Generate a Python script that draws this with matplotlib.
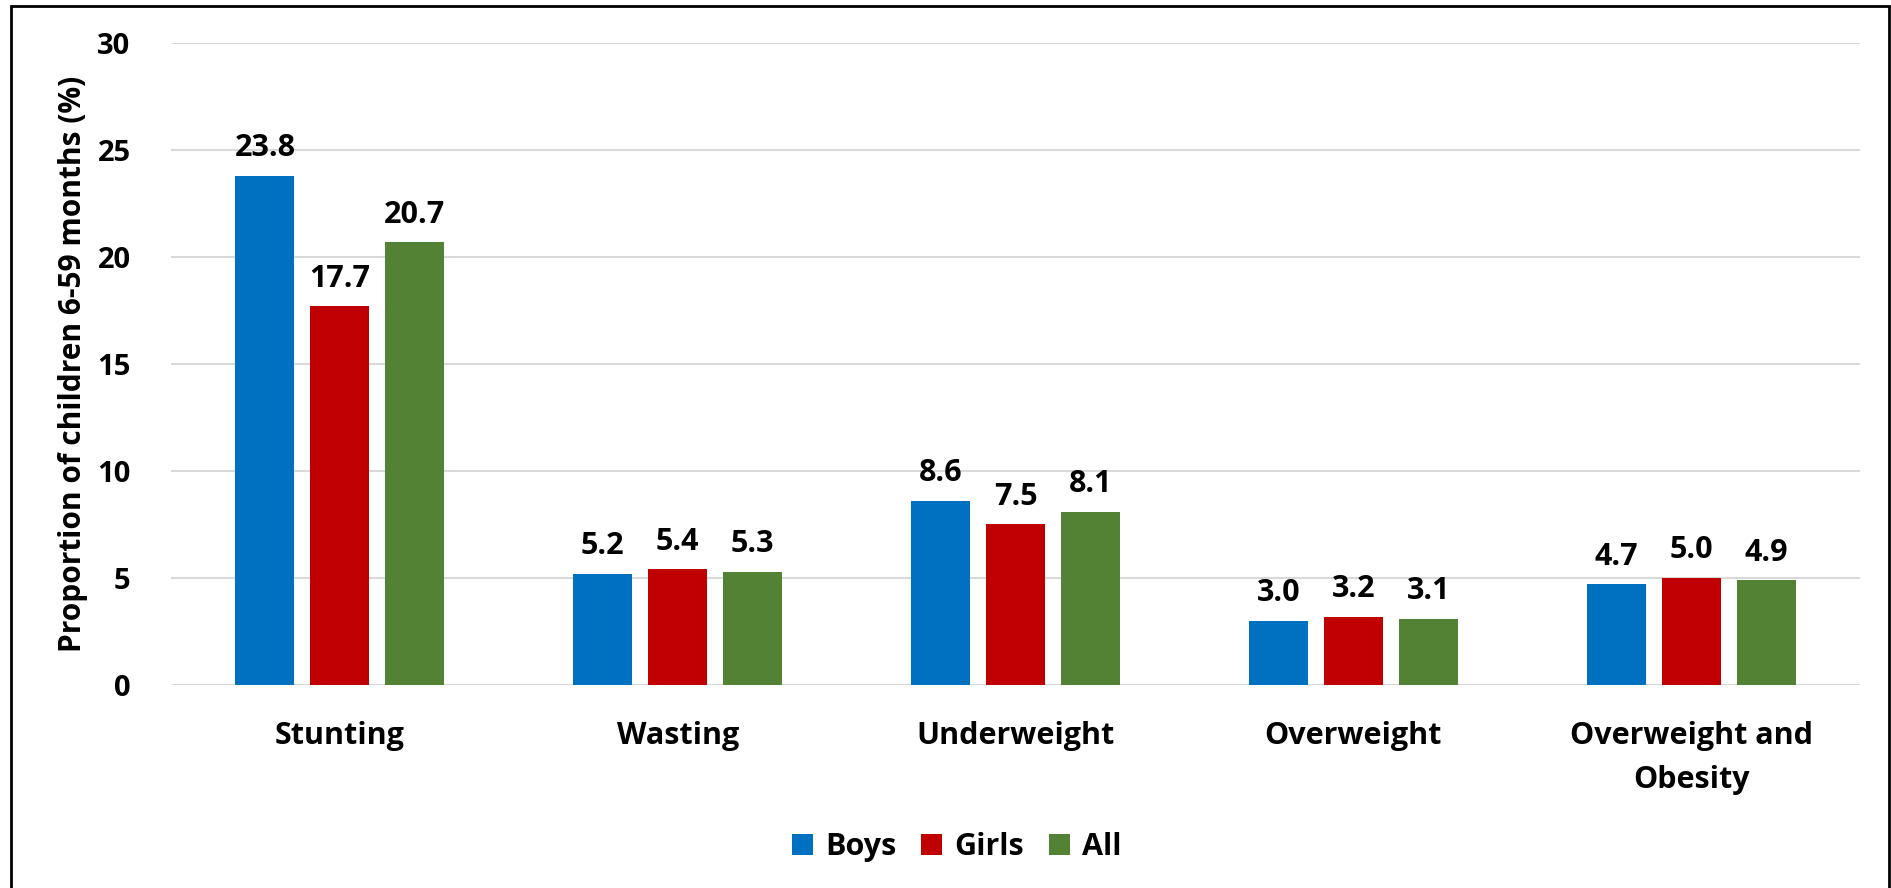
import numpy as np
import matplotlib
matplotlib.use("Agg")
import matplotlib.pyplot as plt
from matplotlib.patches import Rectangle

plt.rcParams['font.family'] = ['Open Sans', 'DejaVu Sans']
plt.rcParams['font.weight'] = 'bold'

categories = ['Stunting', 'Wasting', 'Underweight', 'Overweight', 'Overweight and\nObesity']
series_names = ['Boys', 'Girls', 'All']
boys = [23.8, 5.2, 8.6, 3.0, 4.7]
girls = [17.7, 5.4, 7.5, 3.2, 5.0]
all_children = [20.7, 5.3, 8.1, 3.1, 4.9]
y_ticks = [0, 5, 10, 15, 20, 25, 30]
colors = ['#0070C0', '#C00000', '#548235']

FS = 22

fig = plt.figure(figsize=(18.91, 8.88), dpi=100)
ax = fig.add_axes([0.0904, 0.2286, 0.8932, 0.723])

x = np.arange(len(categories))
width = 0.175
step = 0.222
for i, (name, vals) in enumerate(zip(series_names, [boys, girls, all_children])):
    pos = x + (i - 1) * step
    bars = ax.bar(pos, vals, width, color=colors[i], label=name, zorder=3)
    for b, v in zip(bars, vals):
        ax.annotate(f'{v:.1f}', (b.get_x() + b.get_width() / 2, v),
                    xytext=(0, 9), textcoords='offset points',
                    ha='center', va='bottom', fontsize=FS, fontweight='bold')

ax.set_xlim(-0.5, len(categories) - 0.5)
ax.set_ylim(0, 30)
ax.set_yticks(y_ticks)
ax.set_yticklabels([str(t) for t in y_ticks], fontsize=FS - 1, fontweight='bold')
ax.set_xticks(x)
ax.set_xticklabels(categories, fontsize=FS, fontweight='bold', linespacing=1.6)
ax.tick_params(axis='both', length=0)
ax.tick_params(axis='y', pad=29)
ax.tick_params(axis='x', pad=26)

ax.grid(axis='y', color='#D9D9D9', linewidth=1.5, zorder=0)
for s in ax.spines.values():
    s.set_visible(False)

ax.set_ylabel('Proportion of children 6-59 months (%)', fontsize=FS - 0.5,
              fontweight='bold', labelpad=7)

handles, labels = ax.get_legend_handles_labels()
fig.legend(handles, labels, loc='center', bbox_to_anchor=(0.506, 0.046), ncol=3,
           frameon=False, fontsize=FS, handlelength=0.7, handleheight=0.7,
           handletextpad=0.4, columnspacing=0.8)

# outer frame, open at the bottom edge
fig.add_artist(Rectangle((11 / 1891, -0.05), (1889 - 11) / 1891, 1.05 - 6 / 888,
                         transform=fig.transFigure, fill=False,
                         edgecolor='black', linewidth=2))

fig.savefig('out.png', dpi=100)
